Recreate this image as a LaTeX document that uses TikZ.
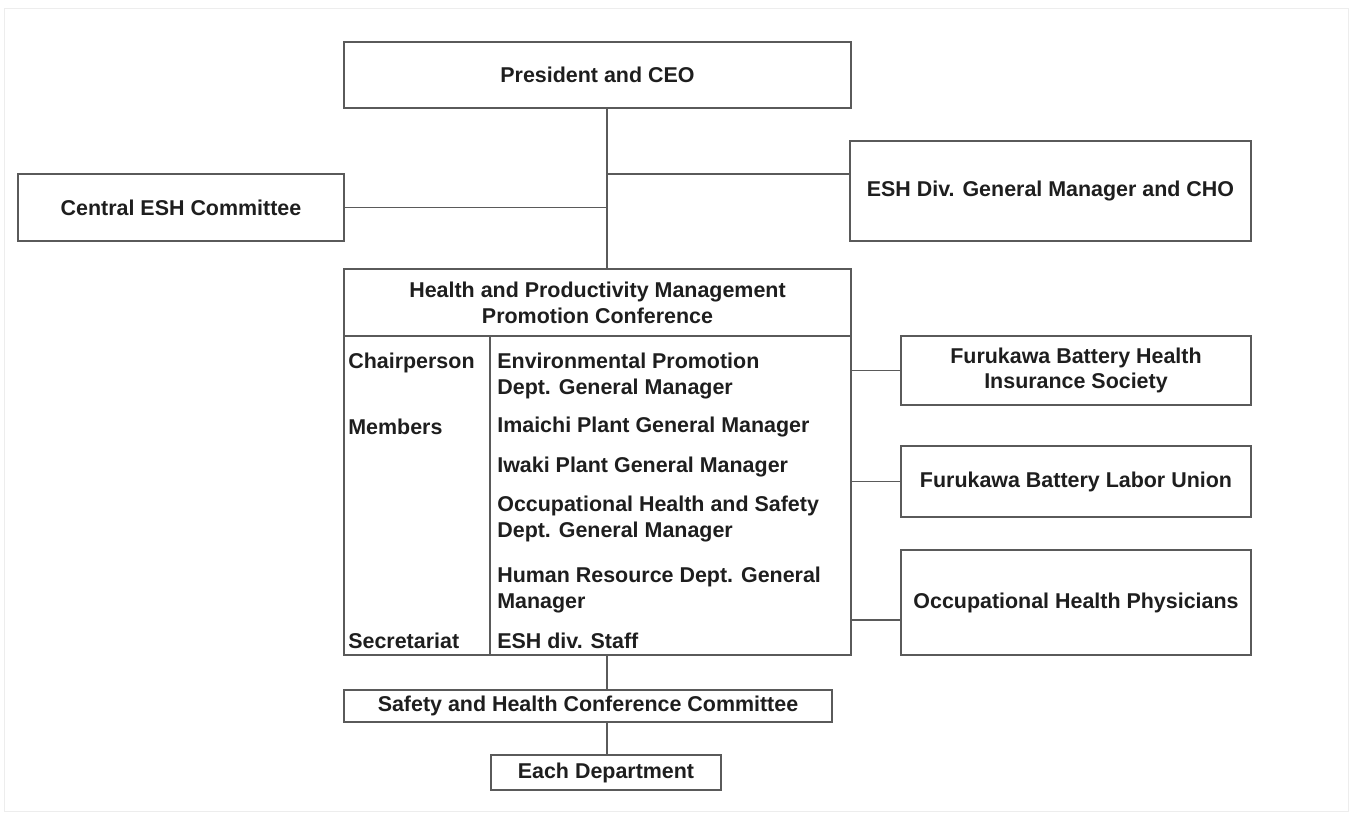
\documentclass[tikz,border=0pt]{standalone}
\usepackage{fontspec}
\setmainfont{Liberation Sans}
\definecolor{linegray}{HTML}{5A5A5A}
\definecolor{ink}{HTML}{1E1E1E}
\tikzset{
  box/.style={draw=linegray, line width=1.1pt, inner sep=2pt, align=center, text=ink},
  link/.style={draw=linegray, line width=1.1pt},
  entry/.style={anchor=west, inner sep=0pt, align=left, text=ink}
}
\begin{document}
\begin{tikzpicture}[x=0.02cm, y=-0.02cm, font=\fontsize{12.2}{14.7}\selectfont\bfseries, line join=miter]
        \useasboundingbox (0,0) rectangle (1353,815);
        \draw[black!7] (4,8) rectangle (1348,811);
        \coordinate (trk) at (607,0);
        % top level
        \node[box, minimum width=10.14cm, minimum height=1.32cm] (pres) at (597.5,75) {President and CEO};
        \node[box, minimum width=6.52cm, minimum height=1.34cm] (central) at (181,207.5) {Central ESH Committee};
        \node[box, minimum width=8.02cm, minimum height=2cm] (esh) at (1050.5,191) {ESH Div. General Manager and CHO};
        % conference
        \node[box, minimum width=10.14cm, minimum height=1.34cm] (hpm) at (597.5,302.5) {Health and Productivity Management\\Promotion Conference};
        \node[box, minimum width=10.14cm, minimum height=6.38cm] (hpmbody) at (597.5,495.5) {};
        \draw[link] (490,0 |- hpm.south) -- (490,0 |- hpmbody.south);
        \node[entry] (chair) at (348,363) {Chairperson};
        \node[entry] (envpro) at (497,376) {Environmental Promotion\\Dept. General Manager};
        \node[entry] (members) at (348,427) {Members};
        \node[entry] (imaichi) at (497,427) {Imaichi Plant General Manager};
        \node[entry] (iwaki) at (497,467) {Iwaki Plant General Manager};
        \node[entry] (ohs) at (497,519) {Occupational Health and Safety\\Dept. General Manager};
        \node[entry] (hrm) at (497,590) {Human Resource Dept. General\\Manager};
        \node[entry] (secr) at (348,641) {Secretariat};
        \node[entry] (staff) at (497,641) {ESH div. Staff};
        % outside parties
        \node[box, minimum width=7cm, minimum height=1.38cm] (ins) at (1076,370.5) {Furukawa Battery Health\\Insurance Society};
        \node[box, minimum width=7cm, minimum height=1.42cm] (union) at (1076,481.5) {Furukawa Battery Labor Union};
        \node[box, minimum width=7cm, minimum height=2.1cm] (phys) at (1076,602.5) {Occupational Health Physicians};
        % lower levels
        \node[box, minimum width=9.76cm, minimum height=0.64cm] (shc) at (588,706) {Safety and Health Conference Committee};
        \node[box, minimum width=4.6cm, minimum height=0.7cm] (dept) at (606,772.5) {Each Department};
        % connectors
        \draw[link] (pres.south -| trk) -- (hpm.north -| trk);
        \draw[link] ([yshift=9.6pt]esh.west -| trk) -- ([yshift=9.6pt]esh.west);
        \draw[link] (central.east) -- (central.east -| trk);
        \draw[link] (ins.west -| hpmbody.east) -- (ins.west);
        \draw[link] (union.west -| hpmbody.east) -- (union.west);
        \draw[link] ([yshift=-10.2pt]phys.west -| hpmbody.east) -- ([yshift=-10.2pt]phys.west);
        \draw[link] (hpmbody.south -| trk) -- (shc.north -| trk);
        \draw[link] (shc.south -| trk) -- (dept.north -| trk);
\end{tikzpicture}
\end{document}
